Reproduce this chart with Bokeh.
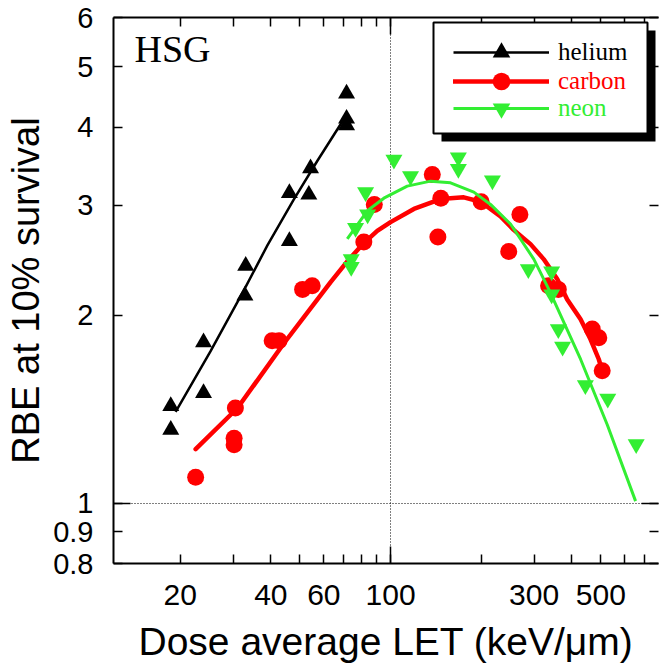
from bokeh.plotting import figure
from bokeh.models import (LogAxis, FixedTicker, Legend, LegendItem, Label,
                          BoxAnnotation, Range1d)
from bokeh.embed import file_html
from bokeh.resources import INLINE

# ---------------- data ----------------
helium_let = [71.4, 71.4, 71.4, 54.2, 46.1, 53.5, 46.1, 33.0, 32.8, 23.9, 23.9, 18.6, 18.6]
helium_rbe = [4.53, 4.13, 4.03, 3.44, 3.14, 3.12, 2.63, 2.40, 2.15, 1.81, 1.50, 1.43, 1.31]
helium_fit_let = [19.3, 25.2, 32.5, 39.0, 47.6, 57.2, 71.9]
helium_fit_rbe = [1.40, 1.75, 2.19, 2.59, 3.06, 3.54, 4.21]

carbon_let = [22.5, 30.2, 30.2, 30.5, 40.4, 42.6, 51.0, 54.9, 81.5, 88.3, 137.6, 146.9,
              143.6, 200, 269, 247, 335, 361, 468, 492, 505]
carbon_rbe = [1.10, 1.27, 1.24, 1.42, 1.82, 1.82, 2.20, 2.23, 2.62, 3.01, 3.36, 3.08,
              2.67, 3.04, 2.90, 2.53, 2.23, 2.20, 1.90, 1.84, 1.63]
carbon_fit_let = [22.5, 31.0, 44.1, 63.2, 71.8, 81.5, 90.3, 100, 119.5, 146.6, 175.1, 199.2,
                  232, 256.5, 291.8, 322.6, 357.9, 386.4, 428, 461.8, 492, 505]
carbon_fit_rbe = [1.22, 1.42, 1.80, 2.26, 2.44, 2.61, 2.73, 2.82, 2.96, 3.07, 3.09, 3.04,
                  2.88, 2.74, 2.60, 2.46, 2.285, 2.12, 1.97, 1.83, 1.70, 1.63]

neon_let = [74.0, 74.0, 76.5, 83.9, 82.6, 102.6, 116.5, 168, 168, 218, 287, 343, 343,
            361, 373, 444, 527, 655]
neon_rbe = [2.46, 2.39, 2.76, 2.90, 3.15, 3.55, 3.34, 3.58, 3.43, 3.29, 2.37, 2.35, 2.16,
            1.90, 1.78, 1.545, 1.47, 1.243]
neon_fit_let = [71.8, 83.7, 95.0, 113.6, 135.8, 158.2, 189.1, 214.9, 250.4, 299.2, 335.7, 428, 525, 652]
neon_fit_rbe = [2.65, 2.94, 3.08, 3.22, 3.28, 3.26, 3.15, 3.01, 2.80, 2.46, 2.20, 1.70, 1.335, 1.007]

x_ticks = [20, 30, 40, 50, 60, 70, 80, 90, 100, 200, 300, 400, 500, 600, 700]
x_labels = ["20", "", "40", "", "60", "", "", "", "100", "", "300", "", "500", "", ""]
y_ticks = [0.8, 0.9, 1, 2, 3, 4, 5, 6]
y_labels = ["0.8", "0.9", "1", "2", "3", "4", "5", "6"]

series_names = ["helium", "carbon", "neon"]
series_colors = ["black", "#ff0000", "#33ee33"]

SANS = "Liberation Sans"
SERIF = "Liberation Serif"

p = figure(width=659, height=672, x_axis_type="log", y_axis_type="log",
           x_range=Range1d(12, 777), y_range=Range1d(0.8, 6),
           output_backend="svg", toolbar_location=None,
           min_border_left=113, min_border_right=1, min_border_top=17,
           min_border_bottom=109)
p.outline_line_color = None
p.background_fill_color = "white"
p.border_fill_color = "white"


def style_axis(ax, ticks, labels, long_tick, show_labels, show_line=True):
    ax.ticker = FixedTicker(ticks=ticks, minor_ticks=[long_tick])
    ax.major_tick_in = 9
    ax.major_tick_out = 0
    ax.minor_tick_in = 17
    ax.minor_tick_out = 0
    ax.major_tick_line_width = 1.5
    ax.minor_tick_line_width = 1.5
    ax.major_tick_line_color = "black"
    ax.minor_tick_line_color = "black"
    ax.axis_line_width = 2
    ax.axis_line_color = "black" if show_line else None
    if show_labels:
        ax.major_label_overrides = {t: l for t, l in zip(ticks, labels)}
        ax.major_label_text_font = SANS
        ax.major_label_text_font_size = "30px"
        ax.major_label_text_color = "black"
    else:
        ax.major_label_overrides = {t: "" for t in ticks}
        ax.major_label_text_font_size = "1px"
        ax.major_label_text_alpha = 0
        ax.major_label_standoff = 0


xa = p.xaxis[0]
style_axis(xa, x_ticks, x_labels, 100, True)
xa.major_label_standoff = 21
xa.axis_label = "Dose average LET (keV/\u03bcm)"
xa.axis_label_text_font = SANS
xa.axis_label_text_font_size = "39px"
xa.axis_label_text_font_style = "normal"
xa.axis_label_text_color = "black"
xa.axis_label_standoff = 12

ya = p.yaxis[0]
style_axis(ya, y_ticks, y_labels, 1, True)
ya.major_label_text_font_size = "29px"
ya.major_label_standoff = 20
ya.axis_label = "RBE at 10% survival"
ya.axis_label_text_font = SANS
ya.axis_label_text_font_size = "38px"
ya.axis_label_text_font_style = "normal"
ya.axis_label_text_color = "black"
ya.axis_label_standoff = 3

top_ax = LogAxis()
style_axis(top_ax, x_ticks, x_labels, 100, False)
p.add_layout(top_ax, "above")
right_ax = LogAxis()
style_axis(right_ax, y_ticks, y_labels, 1, False, show_line=False)
p.add_layout(right_ax, "right")

p.xgrid[0].ticker = FixedTicker(ticks=[100])
p.ygrid[0].ticker = FixedTicker(ticks=[1])
for g in (p.xgrid[0], p.ygrid[0]):
    g.grid_line_color = "black"
    g.grid_line_dash = "1 2"
    g.grid_line_width = 1
    g.grid_line_alpha = 1

# ---------------- data glyphs ----------------
hs = p.scatter(helium_let, helium_rbe, marker="triangle", size=17,
               fill_color=series_colors[0], line_color=None)
hl = p.line(helium_fit_let, helium_fit_rbe, line_color=series_colors[0], line_width=2.5)
cs = p.scatter(carbon_let, carbon_rbe, marker="circle", size=17,
               fill_color=series_colors[1], line_color=None)
cl = p.line(carbon_fit_let, carbon_fit_rbe, line_color=series_colors[1], line_width=4.5,
            line_join="round", line_cap="round")
ns = p.scatter(neon_let, neon_rbe, marker="inverted_triangle", size=17,
               fill_color=series_colors[2], line_color=None)
nl = p.line(neon_fit_let, neon_fit_rbe, line_color=series_colors[2], line_width=3,
            line_join="round")

# ---------------- legend box with shadow ----------------
shadow = BoxAnnotation(left=328, right=542, bottom=422, top=533,
                       left_units="screen", right_units="screen",
                       top_units="screen", bottom_units="screen",
                       fill_color="black", fill_alpha=1, line_color=None)
box = BoxAnnotation(left=320, right=534, bottom=430, top=541,
                    left_units="screen", right_units="screen",
                    top_units="screen", bottom_units="screen",
                    fill_color="white", fill_alpha=1, line_color="black",
                    line_width=2, line_alpha=1)
p.add_layout(shadow)
p.add_layout(box)

rows = [(hl, hs, 489), (cl, cs, 460), (nl, ns, 433)]
for name, color, (lr, sr, vy) in zip(series_names, series_colors, rows):
    leg = Legend(items=[LegendItem(label=name, renderers=[lr, sr])],
                 location=(340, vy), padding=0, margin=0, spacing=0,
                 glyph_width=96, glyph_height=44, label_standoff=9,
                 border_line_color=None, background_fill_alpha=0,
                 label_text_font=SERIF, label_text_font_size="25px",
                 label_text_color=color)
    p.add_layout(leg)

# ---------------- panel title ----------------
p.add_layout(Label(x=21, y=515, x_units="screen", y_units="screen", text="HSG",
                   text_font=SERIF, text_font_size="38px", text_color="black",
                   text_baseline="middle", text_align="left"))

open("out.html", "w").write(file_html(p, INLINE))
